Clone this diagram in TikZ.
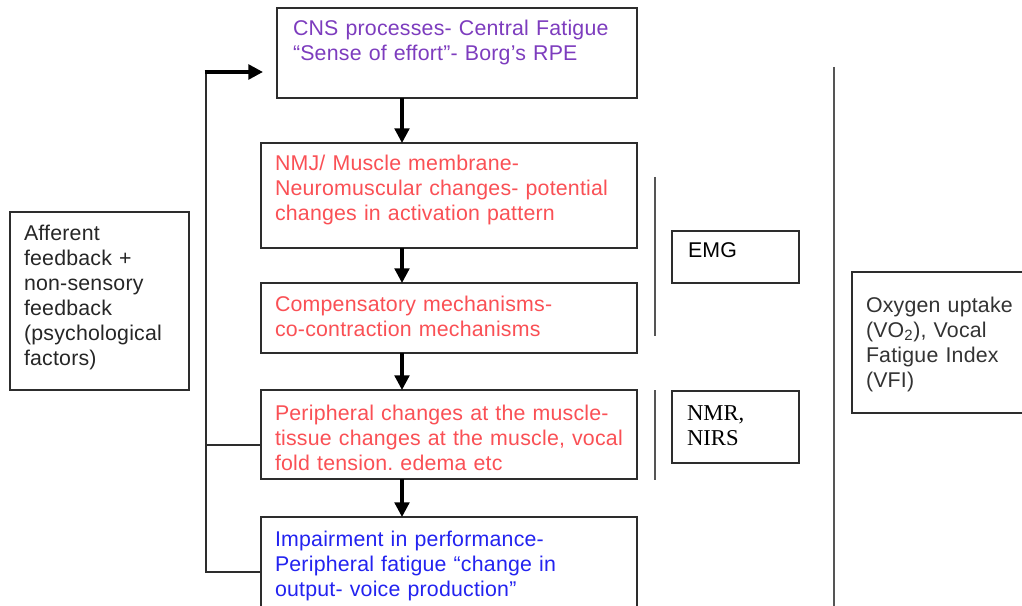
\documentclass[tikz,border=0pt]{standalone}
\usepackage{fontspec}
\setmainfont{Liberation Sans}[LetterSpace=1.0]
\newfontfamily\serifbox{Liberation Serif}
\definecolor{cnspurple}{RGB}{125, 60, 190}
\definecolor{periphred}{RGB}{250, 80, 85}
\definecolor{perfblue}{RGB}{35, 35, 240}
\definecolor{boxgray}{RGB}{45, 45, 45}
\definecolor{rulegray}{RGB}{85, 85, 85}
\usepackage{tikz}
\usetikzlibrary{arrows.meta}
\newcommand{\boxfont}{\fontsize{16}{18.75}\selectfont\frenchspacing}

\begin{document}
\begin{tikzpicture}[x=0.75pt, y=-0.75pt,
    stagebox/.style={draw=boxgray, line width=1.5pt, anchor=north west, outer sep=0pt,
      inner ysep=0pt, inner xsep=10.5pt, text width=261pt, align=left, font=\boxfont},
    flowarrow/.style={line width=2.4pt, -{Triangle[length=11pt, width=11pt]}},
    loopline/.style={draw=boxgray, line width=1.5pt},
    bracketrule/.style={draw=rulegray, line width=1.5pt}]
  \useasboundingbox (0,0) rectangle (1022,606);
  \fill[white] (0,0) rectangle (1022,606);

  % Central chain
  \node[stagebox, text width=246pt, inner xsep=12pt, text height=20.6pt, text depth=46.9pt, text=cnspurple] (cns) at (277,8) {
    CNS processes- Central Fatigue\\“Sense of effort”- Borg’s RPE};
  \node[stagebox, text height=20.6pt, text depth=58.1pt, text=periphred] (nmj) at (261,143) {
    NMJ/ Muscle membrane-\\Neuromuscular changes- potential\\changes in activation pattern};
  \node[stagebox, text height=21.4pt, text depth=31.1pt, text=periphred] (comp) at (261,283) {
    Compensatory mechanisms-\\co-contraction mechanisms};
  \node[stagebox, text height=22.9pt, text depth=43.9pt, text=periphred] (periph) at (261,390) {
    Peripheral changes at the muscle-\\\mbox{tissue changes at the muscle, vocal}\\fold tension. edema etc};
  \node[stagebox, text height=22.1pt, text depth=55.1pt, text=perfblue] (impair) at (261,517) {
    Impairment in performance-\\Peripheral fatigue “change in\\output- voice production”};

  \coordinate (spine) at (402,0);
  \foreach \from/\to in {cns/nmj, nmj/comp, comp/periph, periph/impair}
    \draw[flowarrow] (spine |- \from.south) -- (spine |- \to.north);

  % Feedback loop
  \node[stagebox, text width=113.25pt, text height=21.4pt, text depth=112.1pt, text=black!85] (afferent) at (10,212) {
    Afferent\\feedback +\\non-sensory\\feedback\\(psychological\\factors)};
  \coordinate (fbtop) at (206,72);
  \coordinate (fbtip) at (263,72);
  \coordinate (fbmid) at (206,445);
  \coordinate (fbbot) at (206,572);
  \draw[loopline] (fbmid) -- (fbmid -| periph.west);
  \draw[loopline] (fbbot -| impair.west) -- (fbbot) -- (fbtop);
  \draw[flowarrow, line width=2.6pt] ([xshift=-1pt]fbtop) -- (fbtip);

  % Measures
  \draw[bracketrule] (655,177) -- (655,336);
  \draw[bracketrule] (655,390) -- (655,480);
  \draw[bracketrule] (834,67) -- (834,606);
  \node[stagebox, text width=71.25pt, inner xsep=12pt, text height=20.25pt, text depth=18.75pt] (emg) at (672,231) {EMG};
  \node[stagebox, text width=72.75pt, inner xsep=11.25pt, text height=21.75pt, text depth=32.25pt, font=\boxfont\serifbox\fontsize{17}{18.75}\selectfont] (nmr) at (672,391) {
    NMR,\\NIRS};
  \node[stagebox, text width=114pt, text height=30.4pt, text depth=75.4pt, text=black!80] (oxygen) at (852,272) {
    Oxygen uptake\\(VO\textsubscript{2}), Vocal\\Fatigue Index\\(VFI)};
\end{tikzpicture}
\end{document}
